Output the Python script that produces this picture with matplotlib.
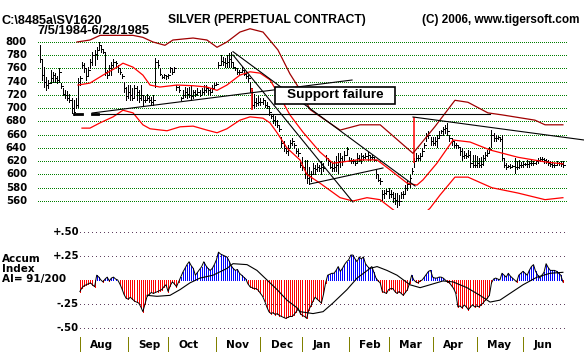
import numpy as np
import matplotlib.pyplot as plt
from matplotlib.patches import Rectangle
from matplotlib.transforms import blended_transform_factory

# ---- price data, one entry per trading day (7/5/1984 .. 6/28/1985) ----
highs = [795, 773, 762, 747, 742, 758, 755, 753, 748, 761,
         738, 730, 728, 726, 722, 715, 712, 715, 745, 748,
         770, 768, 760, 762, 775, 785, 788, 792, 800, 795,
         788, 783, 758, 765, 770, 775, 772, 765, 760, 752,
         740, 732, 735, 735, 730, 735, 733, 728, 735, 720,
         718, 722, 718, 717, 720, 776, 773, 760, 750, 752,
         750, 752, 762, 760, 762, 735, 733, 717, 728, 732,
         730, 732, 735, 728, 727, 730, 728, 730, 735, 735,
         732, 730, 735, 738, 740, 770, 780, 778, 776, 780,
         783, 785, 768, 762, 760, 758, 762, 758, 755, 750,
         740, 728, 722, 715, 718, 716, 715, 712, 710, 704,
         692, 690, 688, 682, 675, 657, 650, 642, 645, 652,
         655, 648, 640, 638, 622, 626, 622, 622, 611, 605,
         617, 615, 617, 615, 620, 618, 629, 625, 620, 618,
         620, 628, 632, 632, 628, 635, 642, 626, 625, 624,
         622, 632, 630, 632, 630, 632, 634, 630, 629, 627,
         608, 600, 595, 577, 577, 578, 580, 576, 574, 572,
         572, 569, 573, 575, 584, 590, 599, 610, 625, 632,
         630, 632, 640, 647, 662, 665, 656, 656, 656, 659,
         665, 667, 672, 674, 677, 660, 655, 650, 648, 645,
         642, 640, 635, 632, 637, 635, 630, 629, 628, 625,
         626, 630, 634, 637, 641, 667, 662, 660, 658, 656,
         660, 625, 618, 615, 616, 615, 625, 620, 622, 619,
         620, 618, 622, 620, 622, 620, 622, 625, 626, 626,
         625, 624, 622, 620, 619, 618, 620, 619, 620, 621]
lows = [770, 743, 732, 728, 730, 738, 740, 740, 738, 740,
        730, 720, 716, 712, 710, 693, 690, 700, 702, 735,
        760, 755, 742, 748, 760, 765, 765, 775, 788, 785,
        783, 750, 745, 750, 750, 762, 762, 755, 752, 745,
        725, 712, 715, 712, 712, 715, 712, 710, 712, 705,
        709, 712, 710, 705, 705, 732, 762, 750, 745, 745,
        744, 745, 755, 752, 755, 728, 725, 712, 715, 717,
        715, 717, 712, 715, 718, 720, 718, 722, 722, 724,
        722, 720, 725, 730, 735, 760, 765, 765, 763, 762,
        762, 762, 760, 757, 752, 752, 755, 750, 745, 740,
        725, 700, 700, 703, 705, 705, 706, 702, 700, 690,
        685, 678, 675, 672, 665, 642, 635, 632, 630, 642,
        645, 640, 632, 628, 611, 607, 595, 587, 585, 590,
        602, 600, 605, 605, 600, 605, 622, 615, 610, 606,
        605, 605, 602, 612, 615, 622, 630, 620, 618, 617,
        615, 617, 620, 617, 622, 625, 622, 622, 624, 620,
        595, 590, 585, 562, 565, 570, 564, 566, 558, 556,
        551, 554, 565, 565, 572, 577, 581, 600, 612, 620,
        622, 622, 628, 640, 650, 655, 645, 644, 644, 641,
        655, 662, 660, 662, 659, 650, 645, 642, 640, 640,
        630, 622, 625, 625, 627, 612, 612, 611, 612, 611,
        611, 615, 622, 628, 632, 642, 650, 650, 654, 650,
        622, 611, 608, 612, 610, 611, 602, 608, 610, 611,
        612, 614, 611, 612, 614, 615, 616, 618, 620, 621,
        618, 618, 615, 613, 611, 612, 614, 615, 613, 611]
closes = [775, 750, 740, 735, 738, 745, 750, 745, 742, 755,
          733, 722, 720, 715, 712, 700, 695, 705, 740, 745,
          765, 760, 748, 758, 770, 780, 782, 788, 795, 790,
          785, 755, 750, 760, 765, 770, 768, 760, 755, 748,
          730, 718, 725, 720, 715, 730, 725, 715, 720, 712,
          712, 715, 712, 710, 712, 770, 765, 752, 747, 750,
          748, 750, 760, 755, 760, 732, 728, 715, 720, 725,
          722, 720, 718, 725, 722, 725, 720, 725, 728, 730,
          728, 725, 730, 735, 737, 765, 772, 770, 768, 770,
          775, 770, 762, 760, 755, 755, 758, 752, 748, 745,
          730, 705, 710, 708, 710, 710, 712, 705, 703, 695,
          688, 682, 680, 675, 668, 648, 640, 636, 640, 648,
          650, 645, 636, 632, 615, 612, 600, 595, 598, 600,
          610, 608, 612, 610, 612, 610, 625, 620, 612, 610,
          612, 615, 620, 625, 620, 630, 638, 622, 620, 620,
          618, 625, 622, 628, 626, 628, 630, 626, 627, 622,
          600, 592, 590, 570, 572, 575, 570, 570, 565, 562,
          560, 560, 570, 570, 580, 585, 595, 605, 620, 625,
          625, 628, 635, 645, 658, 660, 650, 648, 650, 655,
          660, 665, 668, 670, 665, 655, 650, 645, 644, 642,
          635, 628, 630, 628, 630, 618, 615, 615, 618, 615,
          616, 625, 630, 632, 638, 660, 655, 655, 656, 654,
          625, 615, 612, 613, 612, 613, 612, 612, 615, 615,
          616, 616, 616, 618, 618, 618, 620, 622, 624, 624,
          622, 620, 618, 616, 615, 615, 617, 617, 616, 614]

# red signal bars (day, high, low)
signal_days = [101, 178]
signal_hi = [731, 687]
signal_lo = [697, 617]

# bands (day, price)
upper_days = [17.6, 23.8, 28.6, 34.8, 44.3, 49, 53.8, 59.5, 63.3, 72.9, 79.5, 84.3, 89,
              95.2, 100, 106.2, 113.3, 119, 123.8, 128.6, 142.9, 152.4, 162, 177.6,
              188, 197.6, 203.8, 213.3, 220, 235.7, 240.5, 249]
upper_vals = [800, 803, 810, 810, 810, 807, 800, 795, 803, 806, 803, 792, 800,
              815, 820, 815, 788, 752, 728, 698, 667, 675, 675, 632,
              672, 712, 709, 693, 690, 682, 675, 675]
mid_days = [18.1, 23.8, 30, 36.7, 39.5, 44.3, 49, 52.4, 57.1, 65.2, 72.9, 79.5, 84.3, 89,
            95.2, 100, 104.8, 109.5, 114.3, 119, 125.2, 133.3, 139.5, 144.3, 151, 160.5,
            166.7, 174.8, 179.5, 182.4, 189, 196.7, 204.8, 214.3, 227.6, 240.5, 249]
mid_vals = [735, 738, 750, 762, 768, 762, 750, 735, 732, 735, 734, 732, 727, 735,
            750, 755, 753, 743, 717, 690, 664, 634, 617, 619, 622, 622,
            607, 587, 584, 592, 617, 652, 649, 637, 626, 619, 616]
lower_days = [20, 23.8, 28.6, 34.8, 39.5, 44.3, 49, 52.4, 60.5, 66.7, 72.9, 79.5, 84.3, 89,
              95.2, 100, 106.2, 109.5, 112.9, 117.6, 123.8, 127.1, 133.3, 142.9, 149,
              155.7, 161.9, 171.4, 178.6, 185.7, 190.5, 197.6, 203.8, 215.2, 227.6,
              240.5, 249]
lower_vals = [670, 670, 678, 687, 697, 693, 675, 669, 666, 672, 673, 667, 663, 669,
              682, 687, 685, 678, 663, 640, 622, 600, 587, 565, 560,
              565, 562, 539, 528, 549, 569, 596, 596, 580, 572,
              562, 565]

# trend lines: (start day, start price, end day, end price)
trendlines = [(24.8, 691.3, 214.3, 691.3),
              (24.8, 692.8, 148.6, 742.6),
              (91.9, 785.4, 178.6, 582.6),
              (91.9, 780.4, 149.0, 558.5),
              (128.6, 585.7, 163.3, 609.8),
              (177.6, 686.8, 259.0, 652.1)]
# short heavy marks at the left end of the support line
support_marks = [(16.2, 20.2, 691.3), (24.8, 27.6, 691.3)]

# accumulation index, days 19 .. 249
ai_start = 19
ai_vals = [-0.12, -0.08, -0.06, -0.05, -0.04, -0.03, -0.05, -0.07, 0.05, 0.03,
           0.00, -0.02, 0.01, 0.03, -0.01, 0.02, 0.03, 0.01, 0.00, -0.04,
           -0.09, -0.15, -0.19, -0.20, -0.18, -0.20, -0.22, -0.23, -0.24, -0.28,
           -0.33, -0.25, -0.17, -0.15, -0.13, -0.14, -0.13, -0.12, -0.11, -0.10,
           -0.07, -0.05, -0.12, -0.06, -0.02, -0.04, -0.07, -0.02, 0.03, 0.08,
           0.12, 0.16, 0.19, 0.15, 0.12, 0.05, 0.08, 0.11, 0.14, 0.19,
           0.15, 0.12, 0.10, 0.12, 0.16, 0.21, 0.29, 0.27, 0.26, 0.25,
           0.24, 0.20, 0.15, 0.12, 0.10, 0.11, 0.07, 0.05, 0.03, 0.01,
           -0.04, -0.07, -0.08, -0.09, -0.09, -0.11, -0.14, -0.17, -0.22, -0.28,
           -0.33, -0.35, -0.34, -0.36, -0.35, -0.37, -0.38, -0.39, -0.40, -0.39,
           -0.38, -0.38, -0.36, -0.33, -0.30, -0.35, -0.37, -0.38, -0.40, -0.31,
           -0.27, -0.22, -0.18, -0.20, -0.22, -0.24, -0.15, -0.03, 0.05, 0.06,
           0.07, 0.07, 0.10, 0.14, 0.09, 0.12, 0.16, 0.19, 0.21, 0.26,
           0.26, 0.22, 0.19, 0.24, 0.22, 0.24, 0.17, 0.14, 0.12, 0.14,
           0.08, 0.02, -0.01, -0.03, -0.12, -0.13, -0.14, -0.10, -0.09, -0.09,
           -0.12, -0.14, -0.12, -0.14, -0.16, -0.13, -0.10, -0.03, 0.05, 0.00,
           -0.02, -0.03, -0.01, 0.00, 0.03, 0.06, 0.09, 0.10, 0.03, 0.02,
           0.02, 0.03, 0.03, 0.02, 0.00, -0.02, -0.03, -0.06, -0.09, -0.14,
           -0.28, -0.27, -0.29, -0.26, -0.28, -0.31, -0.28, -0.26, -0.28, -0.27,
           -0.28, -0.26, -0.24, -0.21, -0.19, -0.16, -0.03, 0.01, 0.02, 0.01,
           0.00, 0.07, 0.05, 0.03, 0.07, 0.04, 0.02, 0.00, -0.02, 0.05,
           0.07, 0.09, 0.07, 0.05, 0.10, 0.14, 0.16, 0.09, 0.05, 0.02,
           0.05, 0.08, 0.17, 0.13, 0.10, 0.10, 0.10, 0.09, 0.07, 0.05,
           -0.02]
ma_days = [51, 55.7, 61.9, 66.7, 71.4, 76.2, 82.4, 89, 91.9, 98.6, 103.3, 108.1, 112.9,
           117.6, 122.4, 123.8, 130, 134.8, 139.5, 146.2, 151, 157.1, 160.5, 165.2, 170,
           176.2, 181, 185.7, 191.9, 196.7, 203.3, 209.5, 214.3, 219, 223.8, 230, 236.7,
           242.9, 249]
ma_vals = [-0.16, -0.17, -0.16, -0.10, -0.03, 0.02, 0.05, 0.12, 0.17, 0.16, 0.10, 0.0, -0.10,
           -0.21, -0.29, -0.33, -0.35, -0.33, -0.24, -0.10, 0.02, 0.12, 0.14, 0.10, 0.05,
           -0.05, -0.08, -0.05, -0.01, -0.02, -0.08, -0.16, -0.23, -0.21, -0.14, -0.05, 0.03,
           0.07, 0.08]

price_ticks = [800, 780, 760, 740, 720, 700, 680, 660, 640, 620, 600, 580, 560]
ai_ticks = [0.5, 0.25, -0.25, -0.5]
ai_tick_labels = ['+.50', '+.25', '-.25', '-.50']
month_start = [19, 42, 61, 84, 105, 125, 147, 166, 187, 208, 230]
month_names = ['Aug', 'Sep', 'Oct', 'Nov', 'Dec', 'Jan', 'Feb', 'Mar', 'Apr', 'May', 'Jun']

W, H = 584, 352
fig = plt.figure(figsize=(W / 100, H / 100), dpi=100)


def px_rect(l, t, r, b):
    return [l / W, 1 - b / H, (r - l) / W, (b - t) / H]


ax = fig.add_axes(px_rect(36, 20, 584, 210))
ax2 = fig.add_axes(px_rect(36, 225, 584, 337))
ax3 = fig.add_axes(px_rect(36, 337, 584, 352))
for a in (ax, ax2, ax3):
    a.set_axis_off()
    a.set_xlim(-1.905, 259.05)
ax.set_ylim(546.4, 833.2)
ax2.set_ylim(-0.594, 0.573)
ax3.set_ylim(0, 1)

lw = 0.6   # about one pixel
bold = dict(family='DejaVu Sans', weight='bold')
title_font = dict(family='Liberation Sans', weight='bold')

# upper panel
ax.hlines(price_ticks, -1, 251.5, colors='#008000', linewidth=lw,
          linestyles=(0, (1.2, 2.4)), antialiased=False)
days = np.arange(len(highs))
ax.vlines(days, lows, highs, colors='black', linewidth=lw, antialiased=False)
ax.hlines(closes, days, days + 0.8, colors='black', linewidth=lw, antialiased=False)
ax.vlines(signal_days, signal_lo, signal_hi, colors='red', linewidth=1.1)

ax.plot(upper_days, upper_vals, color='#a00000', linewidth=0.9)
ax.plot(mid_days, mid_vals, color='#ff0000', linewidth=0.9)
ax.plot(lower_days, lower_vals, color='#ff0000', linewidth=0.9)

for d0, p0, d1, p1 in trendlines:
    ax.plot([d0, d1], [p0, p1], color='black', linewidth=0.8, clip_on=False)
for d0, d1, p in support_marks:
    ax.plot([d0, d1], [p, p], color='black', linewidth=2.0)

ax.add_patch(Rectangle((111.9, 706.4), 57.1, 25.7, facecolor='white',
                       edgecolor='black', linewidth=1.2, zorder=5))
ax.text(140.5, 719.5, 'Support failure', ha='center', va='center',
        fontsize=9.7, zorder=6, **title_font)

tr = blended_transform_factory(fig.transFigure, ax.transData)
for p in price_ticks:
    ax.text(27 / W, p, str(p), transform=tr, ha='right', va='center',
            fontsize=7.3, **bold)

# lower panel
ax2.hlines(ai_ticks, 19, 251.5, colors='#604060', linewidth=lw,
           linestyles=(0, (1.2, 3.6)), antialiased=False)
ai = np.array(ai_vals)
ai_days = np.arange(ai_start, ai_start + len(ai))
ax2.vlines(ai_days[ai < 0], ai[ai < 0], 0, colors='#ff0000', linewidth=lw,
           antialiased=False)
ax2.vlines(ai_days[ai >= 0], 0, ai[ai >= 0], colors='#0000ff', linewidth=lw,
           antialiased=False)
ax2.plot(ai_days, ai, color='black', linewidth=0.7)
ax2.plot(ma_days, ma_vals, color='black', linewidth=0.8)

tr2 = blended_transform_factory(fig.transFigure, ax2.transData)
for v, s in zip(ai_ticks, ai_tick_labels):
    ax2.text(79 / W, v, s, transform=tr2, ha='right', va='center', fontsize=7.3, **bold)

fig.text(2 / W, 1 - 259 / H, 'Accum', ha='left', va='center', fontsize=7.5, **bold)
fig.text(2 / W, 1 - 269 / H, 'Index', ha='left', va='center', fontsize=7.5, **bold)
fig.text(2 / W, 1 - 279 / H, 'AI= 91/200', ha='left', va='center', fontsize=7.5, **bold)

# month strip
ax3.vlines(month_start, 0.0, 1.0, colors='#808000', linewidth=lw, antialiased=False)
for d, m in zip(month_start, month_names):
    ax3.text(d + 4.8, 0.45, m, ha='left', va='center', fontsize=7.6, **bold)

# titles
fig.text(2 / W, 1 - 20.5 / H, r'C:\8485a\SV1620', ha='left', va='center',
         fontsize=9.1, **title_font)
fig.text(38 / W, 1 - 31 / H, '7/5/1984-6/28/1985', ha='left', va='center',
         fontsize=9.3, **title_font)
fig.text(168 / W, 1 - 20.5 / H, 'SILVER (PERPETUAL CONTRACT)', ha='left', va='center',
         fontsize=8.7, **title_font)
fig.text(422 / W, 1 - 20.5 / H, '(C) 2006, www.tigersoft.com', ha='left', va='center',
         fontsize=8.5, **title_font)

fig.savefig('out.png', dpi=100)
